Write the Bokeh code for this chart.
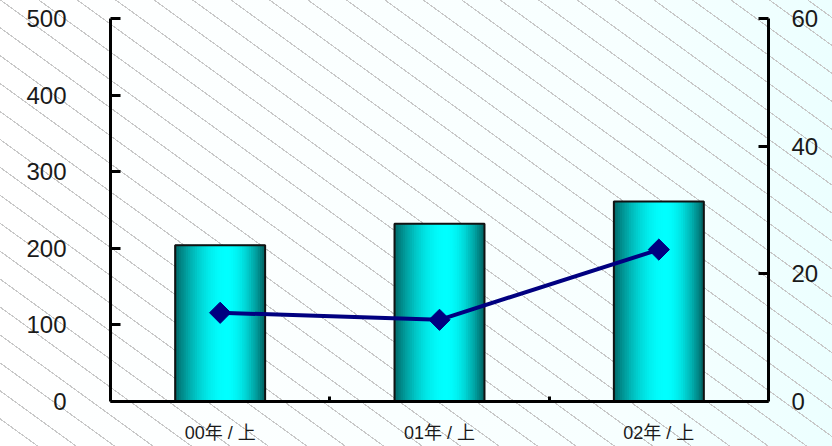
import numpy as np
from bokeh.plotting import figure
from bokeh.models import Range1d, LinearAxis, FixedTicker, ColumnDataSource
from bokeh.embed import file_html
from bokeh.resources import INLINE

# ---- data ----
categories = ["00年 / 上", "01年 / 上", "02年 / 上"]
bar_values = [204, 232, 261]        # left axis
line_values = [13.9, 12.8, 23.8]    # right axis
left_ticks = [0, 100, 200, 300, 400, 500]
right_ticks = [0, 20, 40, 60]

FONT = "'Liberation Sans', Arial, 'Noto Sans CJK JP'"

p = figure(width=832, height=446, output_backend="svg", toolbar_location=None,
           x_range=Range1d(-0.5, len(categories) - 0.5), y_range=Range1d(0, 500),
           min_border_left=110, min_border_right=64, min_border_top=18, min_border_bottom=45,
           x_axis_location=None, y_axis_location=None)
p.background_fill_alpha = 0
p.border_fill_alpha = 0
p.outline_line_color = None
p.xgrid.visible = False
p.ygrid.visible = False
p.styles = {
    "background-image": (
        "repeating-linear-gradient(36deg, rgba(0,0,0,0) 0px, rgba(0,0,0,0) 21.5px, "
        "#c8c8c8 21.5px, #c8c8c8 22.6px), "
        "linear-gradient(90deg, #ffffff 0%, #f7ffff 75%, #ecffff 100%)"
    ),
}

p.extra_y_ranges = {"right": Range1d(0, 60)}

# ---- gradient bars built from thin strips ----
xs = np.arange(len(categories))
w = 0.41
N = 40
def shade(t):
    peak = 0.58
    if t < peak:
        s = np.sin(0.5 * np.pi * t / peak)
    else:
        s = np.sin(0.5 * np.pi * (1 - t) / (1 - peak))
    v = 0.38 + 0.62 * s ** 0.9
    g = int(round(255 * v))
    return "#00%02x%02x" % (g, g)

for k in range(N):
    t = (k + 0.5) / N
    off = -w / 2 + t * w
    c = shade(t)
    src = ColumnDataSource(dict(x=xs + off, top=bar_values))
    p.vbar(x="x", top="top", bottom=0, width=w / N, source=src,
           fill_color=c, line_color=c, line_width=1.2)

p.vbar(x=xs, top=bar_values, bottom=0, width=w, fill_alpha=0,
       line_color="#111111", line_width=2)

# ---- line series on right axis ----
p.line(xs, line_values, y_range_name="right", line_color="#000080", line_width=4)
p.scatter(xs, line_values, y_range_name="right", marker="square", angle=np.pi / 4,
          size=15, fill_color="#000080", line_color="#000080")

# ---- axes ----
def style_axis(ax):
    ax.axis_line_width = 3
    ax.axis_line_color = "black"
    ax.major_tick_line_width = 3
    ax.major_tick_line_color = "black"
    ax.minor_tick_line_color = None
    ax.major_label_text_font = FONT
    ax.major_label_text_color = "#1a1a1a"

left = LinearAxis(ticker=FixedTicker(ticks=left_ticks))
style_axis(left)
left.major_tick_in = 10
left.major_tick_out = 0
left.major_label_standoff = 44
left.major_label_text_font_size = "24px"
p.add_layout(left, "left")

right = LinearAxis(y_range_name="right", ticker=FixedTicker(ticks=right_ticks))
style_axis(right)
right.major_tick_in = 10
right.major_tick_out = 0
right.major_label_standoff = 23
right.major_label_text_font_size = "24px"
p.add_layout(right, "right")

bottom = LinearAxis(ticker=FixedTicker(ticks=list(xs), minor_ticks=[i + 0.5 for i in range(len(categories) - 1)]))
style_axis(bottom)
bottom.major_tick_line_color = None
bottom.major_tick_in = 0
bottom.major_tick_out = 0
bottom.minor_tick_line_color = "black"
bottom.minor_tick_line_width = 3
bottom.minor_tick_in = 5
bottom.minor_tick_out = 0
bottom.major_label_overrides = {int(i): c for i, c in zip(xs, categories)}
bottom.major_label_standoff = 21
bottom.major_label_text_font_size = "18px"
p.add_layout(bottom, "below")

open("out.html", "w").write(file_html(p, INLINE))
